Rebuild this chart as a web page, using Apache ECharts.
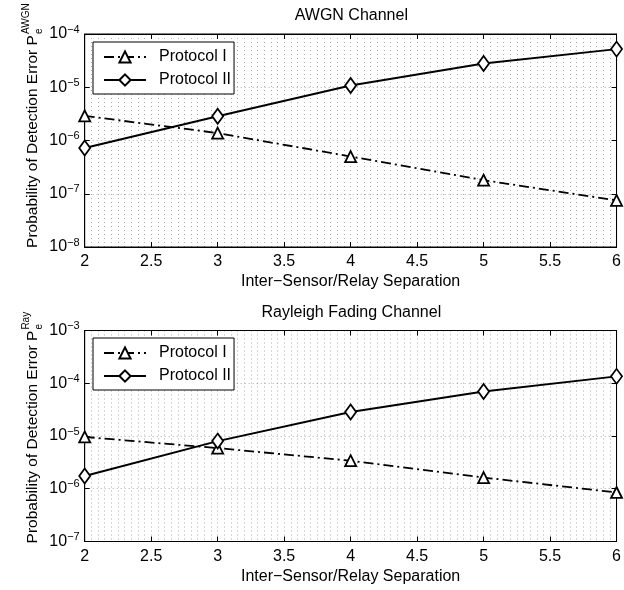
<!DOCTYPE html>
<html>
<head>
<meta charset="utf-8">
<script src="https://cdn.jsdelivr.net/npm/echarts@6/dist/echarts.min.js"></script>
<style>
  html, body { margin: 0; padding: 0; background: #fff; }
  #chart { width: 624px; height: 590px; }
</style>
</head>
<body>
<div id="chart"></div>
<script>
// Detection error probability vs. inter-sensor/relay separation
const separation = [2, 3, 4, 5, 6];

const awgnProtocolI  = [2.9e-6, 1.38e-6, 5.0e-7, 1.8e-7, 7.5e-8];
const awgnProtocolII = [7.2e-7, 2.85e-6, 1.08e-5, 2.8e-5, 5.2e-5];

const rayleighProtocolI  = [9.6e-6, 5.9e-6, 3.4e-6, 1.63e-6, 8.5e-7];
const rayleighProtocolII = [1.75e-6, 8.0e-6, 2.85e-5, 7.0e-5, 1.35e-4];

const seriesNames = ['Protocol I', 'Protocol II'];
const panelTitles = ['AWGN Channel', 'Rayleigh Fading Channel'];
const channelScripts = ['AWGN', 'Ray'];
const xAxisTitle = 'Inter\u2212Sensor/Relay Separation';
const yAxisTitle = 'Probability of Detection Error P';

// decade range (exponents) of each panel's y axis
const awgnExponents = [-8, -4];
const rayleighExponents = [-7, -3];
// mantissas of the dotted log grid inside each decade
const gridMantissas = [2, 3, 4, 5, 6, 7, 8, 9];

const FONT = '"Liberation Sans", Arial, Helvetica, sans-serif';
const GRID_LEFT = 84.7, GRID_WIDTH = 533.3;
const panelLayout = [
  { top: 34, height: 213, legendTop: 42 },
  { top: 330.5, height: 211, legendTop: 338 }
];
const dotted = { color: 'rgba(0,0,0,0.32)', width: 1, type: [1, 3] };

const panels = [
  { exps: awgnExponents, p1: awgnProtocolI, p2: awgnProtocolII },
  { exps: rayleighExponents, p1: rayleighProtocolI, p2: rayleighProtocolII }
];

function pairData(ys) { return separation.map((x, i) => [x, ys[i]]); }

function minorGrid(expMin, expMax) {
  const out = [];
  for (let e = expMin; e < expMax; e++) {
    for (const m of gridMantissas) out.push({ yAxis: m * Math.pow(10, e) });
  }
  return out;
}

function powerLabel(v) {
  const e = Math.round(Math.log10(v));
  return '{b|10}{s|' + (e < 0 ? '\u2212' : '') + Math.abs(e) + '}';
}

const TITLE_FONT = '15.5px "Liberation Sans", Arial, sans-serif';
const measureCtx = document.createElement('canvas').getContext('2d');
measureCtx.font = TITLE_FONT;
const titleWidth = measureCtx.measureText(yAxisTitle).width;

const option = {
  backgroundColor: '#fff',
  animation: false,
  title: [], grid: [], xAxis: [], yAxis: [], series: [], legend: [], graphic: []
};

panels.forEach((pn, p) => {
  const lay = panelLayout[p];
  const yMin = Math.pow(10, pn.exps[0]);
  const yMax = Math.pow(10, pn.exps[1]);

  option.title.push({
    text: panelTitles[p],
    left: GRID_LEFT + GRID_WIDTH / 2,
    top: lay.top - 26,
    textAlign: 'center',
    padding: 0,
    textStyle: { fontFamily: FONT, fontSize: 16, fontWeight: 'normal', color: '#000' }
  });

  option.grid.push({
    left: GRID_LEFT, width: GRID_WIDTH, top: lay.top, height: lay.height,
    show: true, borderColor: '#000', borderWidth: 1, backgroundColor: '#fff'
  });

  option.xAxis.push({
    gridIndex: p, type: 'value', min: 2, max: 6, interval: 0.5,
    axisLine: { show: true, lineStyle: { color: '#000', width: 1 } },
    axisTick: { show: true, inside: true, length: 5, lineStyle: { color: '#000' } },
    axisLabel: { color: '#000', fontFamily: FONT, fontSize: 16, margin: 7 },
    splitLine: { show: true, lineStyle: dotted },
    minorTick: { show: false, splitNumber: 10 },
    minorSplitLine: { show: true, lineStyle: dotted },
    name: xAxisTitle, nameLocation: 'middle', nameGap: 27,
    nameTextStyle: { color: '#000', fontFamily: FONT, fontSize: 16 }
  }, {
    gridIndex: p, type: 'value', min: 2, max: 6, interval: 0.5, position: 'top',
    axisLine: { show: true, lineStyle: { color: '#000', width: 1 } },
    axisTick: { show: true, inside: true, length: 5, lineStyle: { color: '#000' } },
    axisLabel: { show: false }, splitLine: { show: false }
  });

  option.yAxis.push({
    gridIndex: p, type: 'log', logBase: 10, min: yMin, max: yMax,
    axisLine: { show: true, lineStyle: { color: '#000', width: 1 } },
    axisTick: { show: true, inside: true, length: 5, lineStyle: { color: '#000' } },
    axisLabel: {
      formatter: powerLabel, margin: 5, color: '#000',
      rich: {
        b: { fontFamily: FONT, fontSize: 16, color: '#000' },
        s: { fontFamily: FONT, fontSize: 11, color: '#000', padding: [0, 0, 9, 0] }
      }
    },
    splitLine: { show: true, lineStyle: dotted }
  }, {
    gridIndex: p, type: 'log', logBase: 10, min: yMin, max: yMax, position: 'right',
    axisLine: { show: true, lineStyle: { color: '#000', width: 1 } },
    axisTick: { show: true, inside: true, length: 5, lineStyle: { color: '#000' } },
    axisLabel: { show: false }, splitLine: { show: false }
  });

  option.series.push({
    name: seriesNames[0], type: 'line',
    xAxisIndex: 2 * p, yAxisIndex: 2 * p,
    data: pairData(pn.p1),
    symbol: 'triangle', symbolSize: 11,
    lineStyle: { color: '#000', width: 1.8, type: [10, 4, 2, 4] },
    itemStyle: { color: '#fff', borderColor: '#000', borderWidth: 1.8 },
    z: 3,
    markLine: {
      silent: true, symbol: 'none', z: 1, animation: false,
      label: { show: false },
      lineStyle: dotted,
      emphasis: { disabled: true },
      data: minorGrid(pn.exps[0], pn.exps[1])
    }
  }, {
    name: seriesNames[1], type: 'line',
    xAxisIndex: 2 * p, yAxisIndex: 2 * p,
    data: pairData(pn.p2),
    symbol: 'diamond', symbolSize: [11, 15],
    lineStyle: { color: '#000', width: 2, type: 'solid' },
    itemStyle: { color: '#fff', borderColor: '#000', borderWidth: 1.8 },
    z: 4
  });

  option.legend.push({
    data: seriesNames, orient: 'vertical', left: 93, top: lay.legendTop,
    padding: [7, 3, 6, 10], itemGap: 7, itemWidth: 42, itemHeight: 14,
    borderColor: '#000', borderWidth: 1, backgroundColor: '#fff',
    selectedMode: false, z: 10,
    textStyle: { color: '#000', fontFamily: FONT, fontSize: 16, padding: [0, 0, 0, 8] }
  });

  // rotated y-axis title with stacked sub/superscript
  option.graphic.push({
    type: 'group',
    x: 33, y: lay.top + lay.height / 2 + 1,
    rotation: Math.PI / 2,
    silent: true,
    children: [
      { type: 'text', x: 0, y: 0,
        style: { text: yAxisTitle, fill: '#000', font: TITLE_FONT, align: 'center', verticalAlign: 'middle' } },
      { type: 'text', x: titleWidth / 2 + 1, y: -7,
        style: { text: channelScripts[p], fill: '#000', font: '10px ' + FONT, align: 'left', verticalAlign: 'middle' } },
      { type: 'text', x: titleWidth / 2 + 1, y: 6,
        style: { text: 'e', fill: '#000', font: '10px ' + FONT, align: 'left', verticalAlign: 'middle' } }
    ]
  });
});

const chart = echarts.init(document.getElementById('chart'), null, { renderer: 'canvas' });
chart.setOption(option);
</script>
</body>
</html>
